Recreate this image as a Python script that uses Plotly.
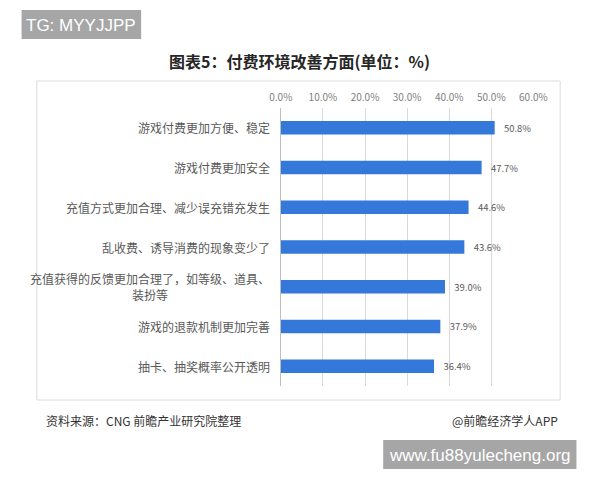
import plotly.graph_objects as go

categories = [
    "游戏付费更加方便、稳定",
    "游戏付费更加安全",
    "充值方式更加合理、减少误充错充发生",
    "乱收费、诱导消费的现象变少了",
    "充值获得的反馈更加合理了，如等级、道具、<br>装扮等",
    "游戏的退款机制更加完善",
    "抽卡、抽奖概率公开透明",
]
values = [50.8, 47.7, 44.6, 43.6, 39.0, 37.9, 36.4]
tick_vals = [0, 10, 20, 30, 40, 50, 60]
tick_text = ["0.0%", "10.0%", "20.0%", "30.0%", "40.0%", "50.0%", "60.0%"]

FONT = "Noto Sans CJK SC"
GRAY = "#595959"

fig = go.Figure()
fig.add_trace(go.Bar(
    y=categories,
    x=values,
    orientation="h",
    marker=dict(color="#3479d9", line=dict(width=0)),
    text=[f"   {v:.1f}%" for v in values],
    textposition="outside",
    textfont=dict(family=FONT, size=10.5, color=GRAY),
    cliponaxis=False,
    width=0.34,
))

cat_annotations = [
    dict(text=c, xref="paper", yref="y", x=272/600, y=c, showarrow=False,
         xanchor="right", yanchor="middle", align="center",
         font=dict(family=FONT, size=12, color=GRAY))
    for c in categories
]

fig.update_layout(
    width=600, height=480,
    margin=dict(l=0, r=0, t=0, b=0),
    paper_bgcolor="white", plot_bgcolor="white",
    showlegend=False,
    font=dict(family=FONT, color=GRAY),
    xaxis=dict(
        domain=[281/600, 545/600],
        range=[0, 60], side="top",
        tickvals=tick_vals, ticktext=tick_text,
        tickfont=dict(size=10, color="#808080"),
        ticklabelstandoff=4,
        showgrid=True, gridcolor="#d9d9d9", gridwidth=1,
        zeroline=True, zerolinecolor="#bfbfbf", zerolinewidth=1,
        showline=False, ticks="",
    ),
    yaxis=dict(
        domain=[1-386/480, 1-108/480],
        autorange="reversed",
        showticklabels=False,
        ticks="", showline=False,
    ),
    shapes=[
        dict(type="rect", xref="paper", yref="paper",
             x0=26/600, x1=573/600, y0=1-400/480, y1=1-81/480,
             line=dict(color="#dcdcdc", width=1), layer="below"),
        dict(type="rect", xref="paper", yref="paper",
             x0=10/600, x1=135/600, y0=1-39/480, y1=1-10/480,
             line=dict(width=0), fillcolor="#a6a6a6"),
        dict(type="rect", xref="paper", yref="paper",
             x0=388/600, x1=590/600, y0=1-469/480, y1=1-440/480,
             line=dict(width=0), fillcolor="#a6a6a6"),
    ],
    annotations=cat_annotations + [
        dict(text="<b>图表5：付费环境改善方面(单位：%)</b>", xref="paper", yref="paper",
             x=300/600, y=1-61/480, showarrow=False, xanchor="center", yanchor="middle",
             font=dict(family=FONT, size=16, color="#262626")),
        dict(text="TG: MYYJJPP", xref="paper", yref="paper",
             x=72.5/600, y=1-25/480, showarrow=False, xanchor="center", yanchor="middle",
             font=dict(family="Liberation Sans", size=17, color="white")),
        dict(text="www.fu88yulecheng.org", xref="paper", yref="paper",
             x=489/600, y=1-455/480, showarrow=False, xanchor="center", yanchor="middle",
             font=dict(family="Liberation Sans", size=17, color="white")),
        dict(text="资料来源：CNG 前瞻产业研究院整理", xref="paper", yref="paper",
             x=33/600, y=1-420/480, showarrow=False, xanchor="left", yanchor="middle",
             font=dict(family=FONT, size=12, color="#333333")),
        dict(text="@前瞻经济学人APP", xref="paper", yref="paper",
             x=573/600, y=1-420/480, showarrow=False, xanchor="right", yanchor="middle",
             font=dict(family=FONT, size=12, color="#333333")),
    ],
)

fig.write_html("out.html", config={"displayModeBar": False},
               post_script="document.body.style.margin='0';document.body.style.overflow='hidden';")
